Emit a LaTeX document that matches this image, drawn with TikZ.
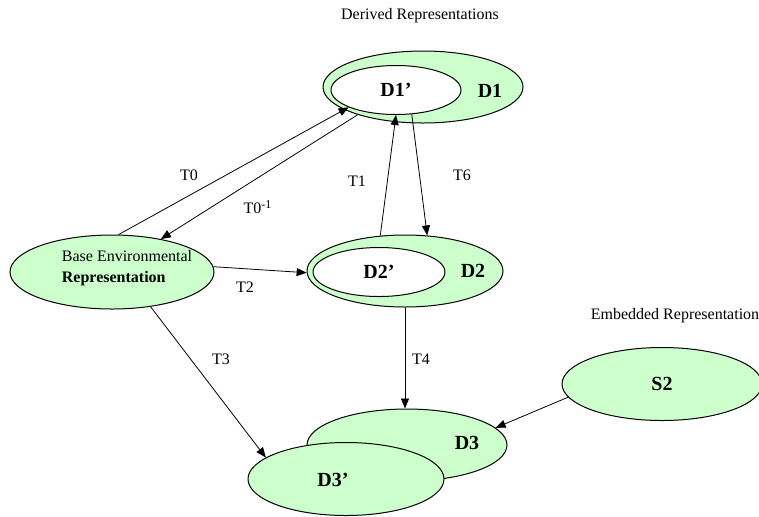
\documentclass[tikz,border=0pt]{standalone}
\usepackage{fontspec}
\setmainfont{Liberation Serif}
\usetikzlibrary{shapes.geometric,arrows.meta}

\definecolor{repgreen}{HTML}{CCFFCC}

\tikzset{
  rep/.style={ellipse, draw=black, fill=repgreen, inner sep=0pt},
  repin/.style={ellipse, draw=black, fill=white, inner sep=0pt, font=\bfseries},
  replbl/.style={font=\bfseries},
  trans/.style={->, line width=0.4pt},
}

\begin{document}
\begin{tikzpicture}[x=0.5pt, y=-0.5pt, >={Triangle[length=5pt,width=4pt]},
    font=\fontsize{8}{10.5}\selectfont, line width=0.5pt]

    \useasboundingbox (0,0) rectangle (759,516);

    % Titel
    \node (dertitle) at (420,16) {Derived Representations};
    \node (embtitle) at (675,316) {Embedded Representation};

    % Basis
    \node[rep, minimum width=102pt, minimum height=37pt] (base) at (112,272) {};
    \node[align=left] (basetxt) at (127,268) {Base Environmental\\\textbf{Representation}};

    % D1
    \node[rep, minimum width=100pt, minimum height=36pt] (d1) at (423,87) {};
    \node[repin, minimum width=65pt, minimum height=24.5pt] (d1i) at (396,90) {D1'};
    \node[replbl] (d1lbl) at (490,91) {D1};

    % D2
    \node[rep, minimum width=98pt, minimum height=36pt] (d2) at (405,271) {};
    \node[repin, minimum width=66pt, minimum height=24.5pt] (d2i) at (379,272) {D2'};
    \node[replbl] (d2lbl) at (473,271) {D2};

    % D3
    \node[rep, minimum width=100pt, minimum height=36pt] (d3) at (407,445) {};
    \node[replbl] (d3lbl) at (467,443) {D3};
    \node[rep, minimum width=98pt, minimum height=36.5pt] (d3i) at (346,479) {};
    \node[replbl] (d3ilbl) at (333,480) {D3'};

    % S2
    \node[rep, minimum width=100pt, minimum height=36.5pt, font=\bfseries] (s2) at (662,384) {S2};

    % Transformationen
    \draw[trans] (base.80) -- (d1i.200);
    \draw[trans] (d1.203) -- (base.34);
    \draw[trans] (d2.125) -- (d1i.270);
    \draw[trans] (d1i.303) -- (d2.58);
    \draw[trans] (base.3) -- (d2.181);
    \draw[trans] (base.318) -- (d3i.165);
    \draw[trans] (d2.south) -- (d2.south |- d3.north);
    \draw[trans] (s2.188) -- (d3.11);

    % Beschriftungen
    \node (t0) at (189,175) {T0};
    \node (t0inv) at (258,207) {T0\textsuperscript{-1}};
    \node (t1) at (357,181) {T1};
    \node (t6) at (462,175) {T6};
    \node (t2) at (245,287) {T2};
    \node (t3) at (221,359) {T3};
    \node (t4) at (421,359) {T4};

\end{tikzpicture}
\end{document}
